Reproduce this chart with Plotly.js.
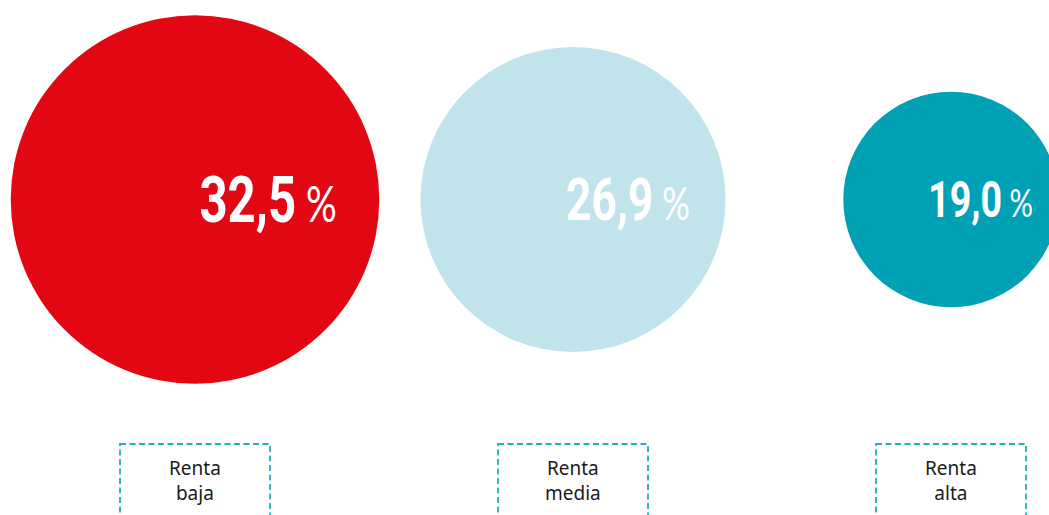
<!DOCTYPE html>
<html>
<head>
<meta charset="utf-8">
<script src="https://cdn.plot.ly/plotly-3.0.1.min.js"></script>
<style>
  html, body { margin: 0; padding: 0; background: #ffffff; }
  #chart { width: 1049px; height: 515px; }
  /* condensed look for the value labels (no condensed face installed) */
  .annotation[data-index="0"] text.annotation-text,
  .annotation[data-index="1"] text.annotation-text,
  .annotation[data-index="2"] text.annotation-text {
    transform-box: fill-box;
    transform-origin: 100% 50%;
    transform: scaleX(0.76);
  }
</style>
</head>
<body>
<div id="chart"></div>
<script>
// ---- data ----
const categories = ['Renta baja', 'Renta media', 'Renta alta'];
const boxLabels = ['Renta<br>baja', 'Renta<br>media', 'Renta<br>alta'];
const values = [32.5, 26.9, 19.0];
const valueLabels = ['32,5', '26,9', '19,0'];
const colors = ['#E30613', '#C1E4EC', '#00A1B5'];

// ---- styles ----
const W = 1049, H = 515;
const RADIUS_PER_UNIT = 5.67;         // px of radius per percentage point
const CENTER_Y_PX = 199.5;            // circle centre from top
const FIRST_X_PX = 195, STEP_PX = 378;
const numFont = "Roboto, 'Liberation Sans', sans-serif";
const labelFont = "'Noto Sans', Lato, sans-serif";
const boxColor = '#22AFC5';

const ys = values.map(() => 0);

const trace = {
  type: 'scatter',
  mode: 'markers',
  x: categories,
  y: ys,
  cliponaxis: false,
  hoverinfo: 'skip',
  marker: {
    size: values,
    sizemode: 'diameter',
    sizeref: 1 / (2 * RADIUS_PER_UNIT),
    color: colors,
    opacity: 1,
    line: { width: 0 }
  }
};

const numAnnotations = [];
const boxAnnotations = [];
const shapes = [];
values.forEach((v, i) => {
  const r = v * RADIUS_PER_UNIT;
  const fs = 28 + 1.13 * v;
  const pfs = fs * 0.78;
  numAnnotations.push({
    x: categories[i], y: 0, xref: 'x', yref: 'y',
    xanchor: 'right', yanchor: 'middle',
    xshift: 0.78 * r, yshift: 0,
    showarrow: false,
    text: valueLabels[i] + '<span style="font-size:' + pfs.toFixed(1) + 'px;font-weight:400;font-family:Lato, sans-serif">&nbsp;%</span>',
    font: { family: numFont, size: fs, color: '#ffffff', weight: 700 }
  });
  boxAnnotations.push({
    x: categories[i], xref: 'x', yref: 'paper',
    y: 1 - 453 / H, yanchor: 'top', xanchor: 'center',
    showarrow: false,
    text: boxLabels[i],
    font: { family: labelFont, size: 19, color: '#1a1a1a' }
  });
  shapes.push({
    type: 'rect', xref: 'x', yref: 'paper',
    xsizemode: 'pixel', xanchor: i,
    x0: -75, x1: 75,
    y0: 1 - 444 / H, y1: -0.2,
    line: { color: boxColor, width: 1.8, dash: '6px,3.5px' },
    fillcolor: 'rgba(0,0,0,0)',
    layer: 'above'
  });
});

const layout = {
  width: W, height: H,
  margin: { l: 0, r: 0, t: 0, b: 0, pad: 0 },
  paper_bgcolor: '#ffffff',
  plot_bgcolor: '#ffffff',
  showlegend: false,
  xaxis: {
    type: 'category',
    categoryorder: 'array', categoryarray: categories,
    range: [-FIRST_X_PX / STEP_PX, (W - FIRST_X_PX) / STEP_PX],
    visible: false, fixedrange: true
  },
  yaxis: {
    range: [-(H - CENTER_Y_PX), CENTER_Y_PX],
    visible: false, fixedrange: true
  },
  annotations: numAnnotations.concat(boxAnnotations),
  shapes: shapes
};

Plotly.newPlot('chart', [trace], layout, { displayModeBar: false, staticPlot: true });
</script>
</body>
</html>
